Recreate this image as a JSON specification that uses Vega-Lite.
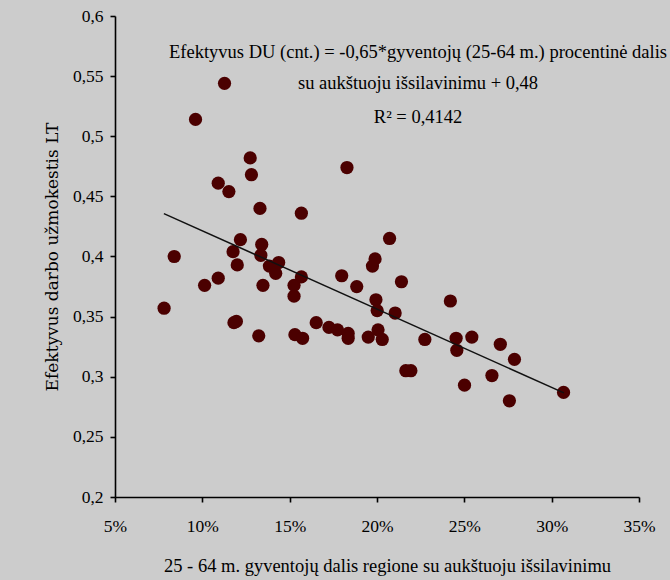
{
  "$schema": "https://vega.github.io/schema/vega-lite/v6.json",
  "autosize": {"type": "none"},
  "width": 524,
  "height": 481,
  "padding": {"left": 115, "top": 16, "right": 31, "bottom": 83},
  "background": "#cccccc",
  "config": {
    "font": "Liberation Serif",
    "view": {"stroke": null},
    "axis": {
      "grid": false,
      "domainColor": "#000000",
      "domainWidth": 1.6,
      "tickColor": "#000000",
      "tickWidth": 1.6,
      "tickSize": 5,
      "labelColor": "#000000",
      "titleColor": "#000000",
      "labelFont": "Liberation Serif",
      "titleFont": "Liberation Serif",
      "labelFontSize": 17.5,
      "titleFontSize": 18.5,
      "titleFontWeight": "normal",
      "labelFlush": false,
      "labelOverlap": false
    }
  },
  "datasets": {
    "points": [
      {"x": 7.81, "y": 0.357},
      {"x": 8.39, "y": 0.400},
      {"x": 9.61, "y": 0.514},
      {"x": 11.27, "y": 0.544},
      {"x": 10.13, "y": 0.376},
      {"x": 10.91, "y": 0.382},
      {"x": 10.91, "y": 0.461},
      {"x": 11.52, "y": 0.454},
      {"x": 11.81, "y": 0.345},
      {"x": 11.95, "y": 0.346},
      {"x": 11.76, "y": 0.404},
      {"x": 12.18, "y": 0.414},
      {"x": 12.0, "y": 0.393},
      {"x": 12.74, "y": 0.482},
      {"x": 12.81, "y": 0.468},
      {"x": 13.3, "y": 0.440},
      {"x": 13.4, "y": 0.410},
      {"x": 13.35, "y": 0.401},
      {"x": 13.47, "y": 0.376},
      {"x": 13.23, "y": 0.334},
      {"x": 13.84, "y": 0.392},
      {"x": 14.2, "y": 0.386},
      {"x": 14.37, "y": 0.395},
      {"x": 15.25, "y": 0.376},
      {"x": 15.25, "y": 0.367},
      {"x": 15.3, "y": 0.335},
      {"x": 15.74, "y": 0.332},
      {"x": 15.67, "y": 0.436},
      {"x": 15.67, "y": 0.383},
      {"x": 16.52, "y": 0.345},
      {"x": 17.25, "y": 0.341},
      {"x": 17.74, "y": 0.339},
      {"x": 17.98, "y": 0.384},
      {"x": 18.28, "y": 0.474},
      {"x": 18.35, "y": 0.336},
      {"x": 18.35, "y": 0.332},
      {"x": 18.84, "y": 0.375},
      {"x": 19.5, "y": 0.333},
      {"x": 19.74, "y": 0.392},
      {"x": 19.89, "y": 0.398},
      {"x": 19.94, "y": 0.364},
      {"x": 20.01, "y": 0.355},
      {"x": 20.06, "y": 0.339},
      {"x": 20.3, "y": 0.331},
      {"x": 20.72, "y": 0.415},
      {"x": 21.04, "y": 0.353},
      {"x": 21.4, "y": 0.379},
      {"x": 21.65, "y": 0.305},
      {"x": 21.94, "y": 0.305},
      {"x": 22.74, "y": 0.331},
      {"x": 24.2, "y": 0.363},
      {"x": 24.53, "y": 0.332},
      {"x": 24.57, "y": 0.322},
      {"x": 25.01, "y": 0.293},
      {"x": 25.43, "y": 0.333},
      {"x": 26.58, "y": 0.301},
      {"x": 27.06, "y": 0.327},
      {"x": 27.58, "y": 0.280},
      {"x": 27.87, "y": 0.3145},
      {"x": 30.68, "y": 0.287}
    ],
    "trend": [
      {"x": 7.8, "y": 0.4357},
      {"x": 30.7, "y": 0.2866}
    ],
    "notes": [
      {"x": 22.35, "y": 0.5703, "text": "Efektyvus DU (cnt.) = -0,65*gyventojų (25-64 m.) procentinė dalis"},
      {"x": 22.35, "y": 0.5443, "text": "su aukštuoju išsilavinimu  + 0,48"},
      {"x": 22.35, "y": 0.516, "text": "R² = 0,4142"}
    ]
  },
  "layer": [
    {
      "data": {"name": "points"},
      "mark": {"type": "circle", "size": 175, "color": "#4b0000", "opacity": 1},
      "encoding": {
        "x": {
          "field": "x", "type": "quantitative",
          "scale": {"domain": [5, 35], "nice": false, "zero": false},
          "axis": {
            "values": [5, 10, 15, 20, 25, 30, 35],
            "labelExpr": "format(datum.value, 'd') + '%'",
            "labelPadding": 15,
            "title": "25 - 64 m. gyventojų dalis regione su aukštuoju išsilavinimu",
            "titleX": 272,
            "titlePadding": 22
          }
        },
        "y": {
          "field": "y", "type": "quantitative",
          "scale": {"domain": [0.2, 0.6], "nice": false, "zero": false},
          "axis": {
            "values": [0.2, 0.25, 0.3, 0.35, 0.4, 0.45, 0.5, 0.55, 0.6],
            "labelExpr": "replace(format(datum.value, '.2~f'), '.', ',')",
            "labelPadding": 7,
            "title": "Efektyvus darbo užmokestis LT",
            "titleFont": "DejaVu Serif",
            "titleFontSize": 17,
            "titlePadding": 11
          }
        }
      }
    },
    {
      "data": {"name": "trend"},
      "mark": {"type": "line", "color": "#111111", "strokeWidth": 1.5},
      "encoding": {
        "x": {"field": "x", "type": "quantitative"},
        "y": {"field": "y", "type": "quantitative"}
      }
    },
    {
      "data": {"name": "notes"},
      "mark": {"type": "text", "fontSize": 18.5, "align": "center", "baseline": "middle", "color": "#000000", "font": "Liberation Serif"},
      "encoding": {
        "x": {"field": "x", "type": "quantitative"},
        "y": {"field": "y", "type": "quantitative"},
        "text": {"field": "text"}
      }
    }
  ]
}
